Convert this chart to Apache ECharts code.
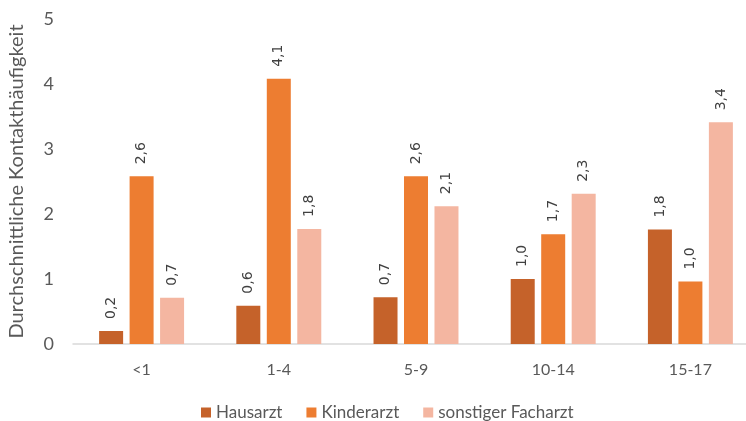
<!DOCTYPE html>
<html>
<head>
<meta charset="utf-8">
<script src="https://cdn.jsdelivr.net/npm/echarts@6/dist/echarts.min.js"></script>
<style>
    html, body { margin: 0; padding: 0; background: #fff; }
    #main { width: 746px; height: 421px; }
</style>
</head>
<body>
<div id="main"></div>
<script>
// Altersgruppen
var ageGroups = ['<1', '1-4', '5-9', '10-14', '15-17']
var seriesNames = ['Hausarzt', 'Kinderarzt', 'sonstiger Facharzt']
// Werte
var hausarzt = [0.2, 0.59, 0.72, 1.0, 1.76]
var kinderarzt = [2.58, 4.08, 2.58, 1.69, 0.96]
var facharzt = [0.71, 1.77, 2.12, 2.31, 3.41]
var yTicks = [0, 1, 2, 3, 4, 5]

var colors = ['#C5622A', '#ED7D31', '#F4B6A1']
var font = 'Lato, "Open Sans", sans-serif'

function bar(name, data, color) {
    return {
        name: name,
        type: 'bar',
        data: data,
        barWidth: 24,
        barGap: '27%',
        itemStyle: { color: color },
        label: {
            show: true,
            position: 'top',
            rotate: 90,
            align: 'left',
            verticalAlign: 'middle',
            distance: 12,
            color: '#404040',
            fontSize: 14,
            fontFamily: '"DejaVu Sans", sans-serif',
            formatter: function (p) {
                return p.value.toFixed(1).replace('.', ',')
            }
        }
    }
}

var myChart = echarts.init(document.getElementById('main'))
var option = {
    animation: false,
    textStyle: { fontFamily: font },
    // Plotbereich reicht rechts etwas über das Bild hinaus
    grid: {
        left: 73,
        right: -13,
        top: 19,
        bottom: 77,
        outerBoundsMode: 'none'
    },
    legend: {
        data: seriesNames,
        left: 196,
        top: 399,
        itemWidth: 10,
        itemHeight: 10,
        itemGap: 24,
        icon: 'rect',
        textStyle: { color: '#595959', fontSize: 17, fontFamily: font }
    },
    xAxis: {
        type: 'category',
        data: ageGroups,
        axisLine: { lineStyle: { color: '#D9D9D9', width: 1.5 } },
        axisTick: { show: false },
        axisLabel: { color: '#595959', fontSize: 16, margin: 18 }
    },
    yAxis: {
        type: 'value',
        min: yTicks[0],
        max: yTicks[yTicks.length - 1],
        interval: 1,
        name: 'Durchschnittliche Kontakthäufigkeit',
        nameLocation: 'middle',
        nameGap: 46,
        nameTextStyle: { color: '#595959', fontSize: 20 },
        axisLine: { show: false },
        axisTick: { show: false },
        splitLine: { show: false },
        axisLabel: { color: '#595959', fontSize: 18, margin: 19 }
    },
    series: [
        bar(seriesNames[0], hausarzt, colors[0]),
        bar(seriesNames[1], kinderarzt, colors[1]),
        bar(seriesNames[2], facharzt, colors[2])
    ]
}
myChart.setOption(option)
</script>
</body>
</html>
